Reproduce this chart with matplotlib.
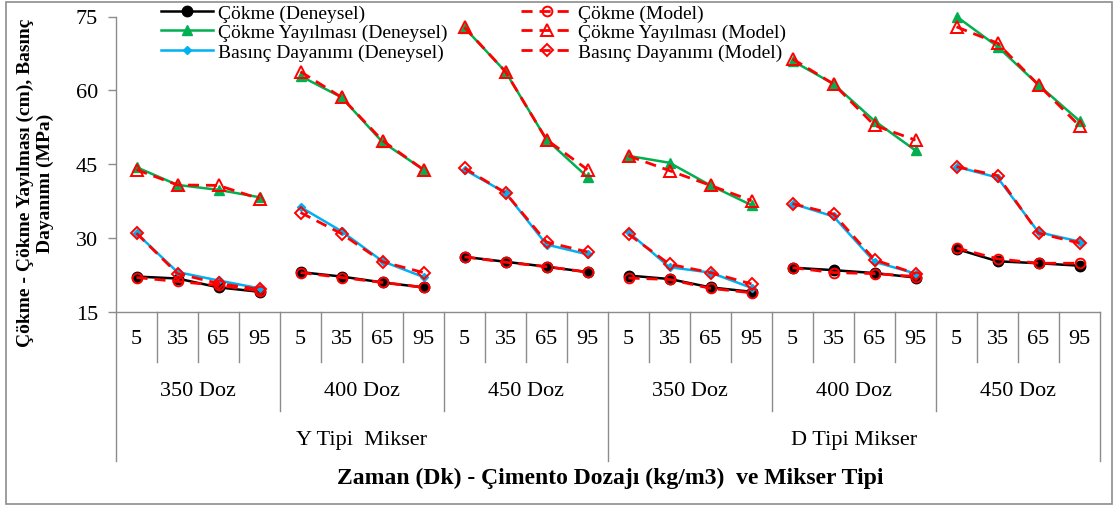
import matplotlib
matplotlib.use("Agg")
import matplotlib.pyplot as plt
import matplotlib.transforms as mtransforms
from matplotlib.lines import Line2D
from matplotlib.patches import Rectangle

# ---------------- data ----------------
times = ["5", "35", "65", "95"]
doses = ["350 Doz", "400 Doz", "450 Doz"]
mixers = ["Y Tipi  Mikser", "D Tipi Mikser"]

slump_exp = [22.2, 21.8, 20.0, 19.1, 23.1, 22.2, 21.0, 20.0, 26.2, 25.2, 24.2, 23.1,
             22.4, 21.7, 20.0, 19.1, 24.0, 23.5, 22.9, 22.0, 27.8, 25.3, 24.9, 24.4]
slump_mod = [22.0, 21.2, 20.4, 19.3, 23.0, 22.0, 21.0, 20.0, 26.2, 25.1, 24.2, 23.1,
             21.9, 21.6, 19.8, 18.9, 24.0, 23.0, 22.8, 22.2, 28.0, 25.8, 24.9, 24.9]
spread_exp = [44.4, 40.8, 39.8, 38.3, 62.9, 58.6, 49.5, 43.9, 72.7, 63.8, 50.0, 42.4,
              46.7, 45.3, 40.7, 36.7, 66.0, 61.3, 53.8, 47.8, 75.0, 68.9, 61.1, 53.8]
spread_mod = [43.9, 40.8, 40.7, 38.0, 63.8, 58.6, 49.8, 43.9, 72.8, 63.8, 50.0, 43.9,
              46.7, 43.7, 40.7, 37.6, 66.4, 61.3, 52.9, 49.9, 72.9, 69.6, 61.1, 52.8]
strength_exp = [31.0, 23.1, 21.4, 19.8, 36.3, 31.4, 25.3, 22.1, 43.9, 39.2, 28.7, 26.7,
                31.2, 24.1, 23.0, 19.9, 37.0, 34.4, 25.2, 22.8, 44.5, 42.3, 31.2, 29.3]
strength_mod = [31.0, 22.8, 20.8, 19.6, 35.2, 30.9, 25.2, 23.0, 44.2, 39.2, 29.2, 27.2,
                30.8, 24.7, 23.0, 20.7, 37.0, 34.9, 25.6, 22.8, 44.5, 42.7, 31.0, 29.0]

labels_exp = ["Çökme (Deneysel)", "Çökme Yayılması (Deneysel)", "Basınç Dayanımı (Deneysel)"]
labels_mod = ["Çökme (Model)", "Çökme Yayılması (Model)", "Basınç Dayanımı (Model)"]

# ---------------- styling ----------------
plt.rcParams["font.family"] = ["Liberation Serif", "DejaVu Serif"]
W, H = 1118, 510
fig = plt.figure(figsize=(W / 100, H / 100), dpi=100)
ax = fig.add_axes([116 / W, 1 - 313 / H, (1100 - 116) / W, (313 - 17.5) / H])

GREEN = "#00B050"
BLUE = "#00B0F0"
RED = "#FF0000"
GRAY = "#8C8C8C"

n_t = len(times)
n_cat = len(times) * len(doses) * len(mixers)
xs = list(range(n_cat))

exp_styles = [
    dict(color="black", marker="o", ms=7.5, lw=1.8),
    dict(color=GREEN, marker="^", ms=7.5, lw=1.8),
    dict(color=BLUE, marker="D", ms=4.5, lw=1.8),
]
mod_styles = [
    dict(color=RED, marker="o", ms=7, lw=2.0, ls=(0, (4, 2.5)), mfc="none", mec=RED, mew=1.4),
    dict(color=RED, marker="^", ms=8, lw=2.0, ls=(0, (4, 2.5)), mfc="none", mec=RED, mew=1.4),
    dict(color=RED, marker="D", ms=6, lw=2.0, ls=(0, (4, 2.5)), mfc="none", mec=RED, mew=1.4),
]

exp_series = [slump_exp, spread_exp, strength_exp]
mod_series = [slump_mod, spread_mod, strength_mod]

for s, st in zip(exp_series, exp_styles):
    for g in range(0, n_cat, n_t):
        ax.plot(xs[g:g + n_t], s[g:g + n_t], zorder=3, clip_on=False, **st)
for s, st in zip(mod_series, mod_styles):
    for g in range(0, n_cat, n_t):
        ax.plot(xs[g:g + n_t], s[g:g + n_t], zorder=4, clip_on=False, **st)

ax.set_xlim(-0.5, n_cat - 0.5)
ax.set_ylim(15, 75)
ax.set_yticks([15, 30, 45, 60, 75])
ax.tick_params(axis="y", direction="out", length=6, width=1, color=GRAY,
               labelsize=16, pad=7)
ax.set_xticks([])
for sp in ["top", "right"]:
    ax.spines[sp].set_visible(False)
for sp in ["left", "bottom"]:
    ax.spines[sp].set_color(GRAY)
    ax.spines[sp].set_linewidth(1)

# multi-level category axis
trans = mtransforms.blended_transform_factory(ax.transData, ax.transAxes)
ah = 313 - 17.5
y_short = -(363 - 313) / ah
y_group = -(412 - 313) / ah
y_mix = -(462 - 313) / ah
per_mixer = n_t * len(doses)
for k in range(n_cat + 1):
    if k % per_mixer == 0:
        yb = y_mix
    elif k % n_t == 0:
        yb = y_group
    else:
        yb = y_short
    ax.plot([k - 0.5, k - 0.5], [0, yb], transform=trans, color=GRAY, lw=1,
            clip_on=False, zorder=1)

for i in range(n_cat):
    ax.text(xs[i], -(340 - 313) / ah, times[i % n_t], transform=trans,
            ha="center", va="center", fontsize=16)
for m in range(len(mixers)):
    for d in range(len(doses)):
        start = m * per_mixer + d * n_t
        cx = (xs[start] + xs[start + n_t - 1]) / 2
        ax.text(cx, -(392 - 313) / ah, doses[d], transform=trans,
                ha="center", va="center", fontsize=16)
    cx = (xs[m * per_mixer] + xs[m * per_mixer + per_mixer - 1]) / 2
    ax.text(cx, -(441 - 313) / ah, mixers[m], transform=trans,
            ha="center", va="center", fontsize=16)

fig.text(610 / W, 1 - 478 / H, "Zaman (Dk) - Çimento Dozajı (kg/m3)  ve Mikser Tipi",
         ha="center", va="center", fontsize=17, fontweight="bold")
fig.text(35 / W, 1 - 183 / H, "Çökme - Çökme Yayılması (cm), Basınç\nDayanımı (MPa)",
         ha="center", va="center", rotation=90, fontsize=14, fontweight="bold",
         multialignment="center", linespacing=1.2)

# legends
h_exp = [Line2D([], [], **st) for st in exp_styles]
h_mod = [Line2D([], [], **st) for st in mod_styles]
common = dict(frameon=False, fontsize=14, handlelength=2.65, handletextpad=0.3,
              labelspacing=0.1, borderpad=0, borderaxespad=0, loc="upper left")
leg1 = fig.legend(h_exp, labels_exp, bbox_to_anchor=(161 / W, 1 - 5 / H), **common)
leg2 = fig.legend(h_mod, labels_mod, bbox_to_anchor=(521 / W, 1 - 5 / H), **common)

# chart-area border
fig.patches.append(Rectangle((6 / W, 5 / H), (1112 - 6) / W, (507 - 5) / H,
                             transform=fig.transFigure, fill=False,
                             edgecolor=GRAY, lw=1.2))

fig.savefig("out.png", dpi=100)
